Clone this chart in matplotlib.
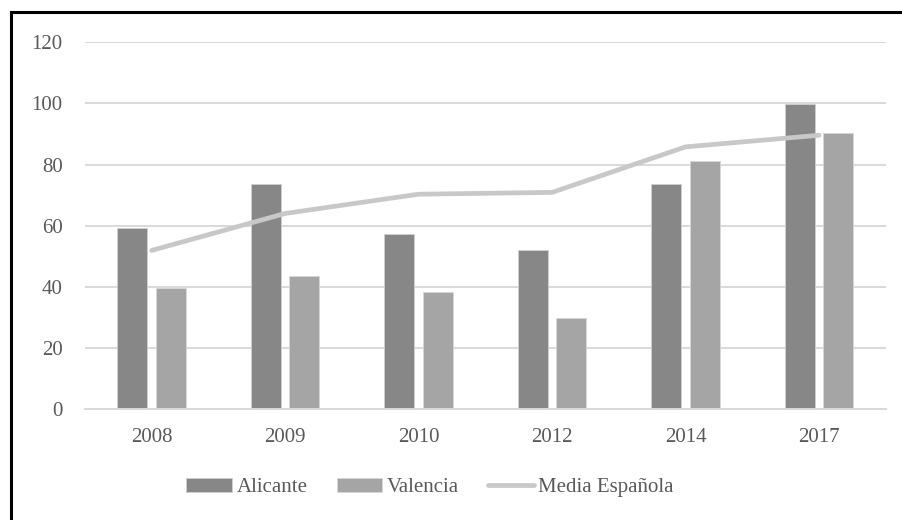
import matplotlib.pyplot as plt
import numpy as np

# data
years = ['2008', '2009', '2010', '2012', '2014', '2017']
alicante = [59.3, 73.6, 57.2, 52.1, 73.6, 99.8]
valencia = [39.5, 43.4, 38.4, 29.9, 81.2, 90.2]
media = [51.9, 64.0, 70.3, 70.9, 85.8, 89.6]

plt.rcParams['font.family'] = ['Liberation Serif', 'DejaVu Serif']
txt = '#595959'

fig = plt.figure(figsize=(9.03, 5.20), dpi=100)
ax = fig.add_axes([0.094, 0.2135, 0.887, 0.705])

x = np.arange(len(years))
w = 0.225
b1 = ax.bar(x - 0.145, alicante, w, color='#878787', edgecolor='#d0d0d0', linewidth=0.6, label='Alicante', zorder=2)
b2 = ax.bar(x + 0.145, valencia, w, color='#a5a5a5', edgecolor='#d8d8d8', linewidth=0.6, label='Valencia', zorder=2)
l1, = ax.plot(x, media, color='#c8c8c8', linewidth=3.4, solid_capstyle='round', label='Media Española', zorder=3)

ax.set_xlim(-0.5, len(years) - 0.5)
ax.set_ylim(0, 120)
ax.set_yticks(range(0, 121, 20))
ax.set_xticks(x)
ax.set_xticklabels(years)
ax.yaxis.grid(True, color='#d9d9d9', linewidth=1.4, zorder=0)
ax.set_axisbelow(True)
for s in ['top', 'right', 'left']:
    ax.spines[s].set_visible(False)
ax.spines['bottom'].set_color('#d9d9d9')
ax.spines['bottom'].set_linewidth(1.4)
ax.tick_params(axis='both', length=0, labelsize=15, colors=txt)
ax.tick_params(axis='y', pad=16)
ax.tick_params(axis='x', pad=14)

leg = fig.legend([b1, b2, l1], ['Alicante', 'Valencia', 'Media Española'],
                 loc='center', bbox_to_anchor=(0.476, 0.062), ncol=3, frameon=False,
                 fontsize=15, handlelength=2.2, handleheight=0.65, columnspacing=1.4,
                 handletextpad=0.2)
for t in leg.get_texts():
    t.set_color(txt)

# border on top and left only, like the cropped screenshot
fig.add_artist(plt.Line2D([0.012, 1.0], [0.977, 0.977], color='black', linewidth=2.2, transform=fig.transFigure))
fig.add_artist(plt.Line2D([0.012, 0.012], [0.0, 0.977], color='black', linewidth=2.2, transform=fig.transFigure))

fig.savefig('out.png', dpi=100)
